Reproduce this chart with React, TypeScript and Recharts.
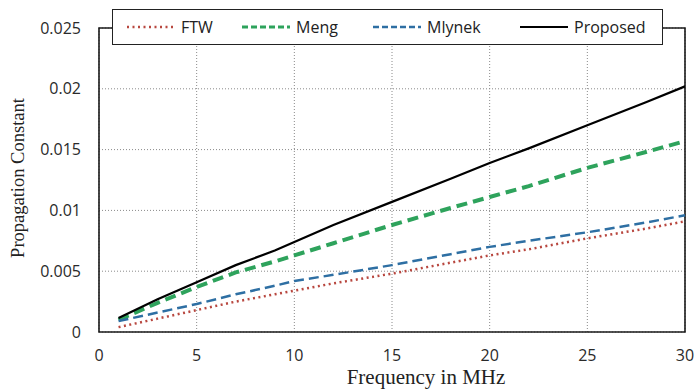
import { LineChart, Line, XAxis, YAxis, CartesianGrid, ReferenceArea } from 'recharts';

const freq = [1, 3, 5, 7, 9, 10, 12, 15, 18, 20, 22, 25, 28, 30];
const ftw = [0.0004, 0.0011, 0.0018, 0.0025, 0.0031, 0.0034, 0.004, 0.0048, 0.0057, 0.0063, 0.0068, 0.0077, 0.0085, 0.0091];
const meng = [0.001, 0.0024, 0.0037, 0.0049, 0.0058, 0.0063, 0.0073, 0.0088, 0.0102, 0.0111, 0.012, 0.0135, 0.0148, 0.0157];
const mlynek = [0.0009, 0.0016, 0.0023, 0.0031, 0.0038, 0.0042, 0.0047, 0.0055, 0.0064, 0.007, 0.0075, 0.0082, 0.009, 0.0096];
const proposed = [0.00115, 0.0027, 0.0041, 0.0055, 0.0067, 0.0074, 0.0088, 0.0107, 0.0126, 0.0139, 0.0151, 0.017, 0.0189, 0.0202];

const xTicks = [0, 5, 10, 15, 20, 25, 30];
const yTicks = [0, 0.005, 0.01, 0.015, 0.02, 0.025];

const data = freq.map((f, i) => ({
    f,
    ftw: ftw[i],
    meng: meng[i],
    mlynek: mlynek[i],
    proposed: proposed[i],
}));

const SERIES = [
    { key: 'ftw', name: 'FTW', color: '#b8473f', width: 2.5, dash: '2 3.5' },
    { key: 'meng', name: 'Meng', color: '#2ea35c', width: 4, dash: '11 6' },
    { key: 'mlynek', name: 'Mlynek', color: '#2e6fa3', width: 2.5, dash: '10 5' },
    { key: 'proposed', name: 'Proposed', color: '#000000', width: 2.2, dash: undefined },
];

// left offset of each legend sample inside the legend box
const LEGEND_LEFT = [14, 129, 260, 407];

const tickStyle = { fontFamily: '"Open Sans", sans-serif', fontSize: 16, fill: '#2a2a2a' };
const titleFont = '"Liberation Serif", "Times New Roman", serif';

export default function App() {
    return (
        <div style={{ position: 'absolute', left: 0, top: 0, width: 695, height: 391, background: '#fff' }}>
            <LineChart width={695} height={391} data={data} margin={{ top: 28, right: 10, left: 0, bottom: 0 }}>
                <CartesianGrid stroke="#8a8a8a" strokeDasharray="1 2" />
                <XAxis
                    dataKey="f"
                    type="number"
                    domain={[0, 30]}
                    ticks={xTicks}
                    height={59}
                    tickLine={false}
                    tickMargin={12}
                    axisLine={false}
                    tick={tickStyle}
                    label={{
                        value: 'Frequency in MHz',
                        position: 'insideBottom',
                        offset: 7,
                        dx: 34,
                        style: { fontFamily: titleFont, fontSize: 21, fill: '#222' },
                    }}
                />
                <YAxis
                    type="number"
                    domain={[0, 0.025]}
                    ticks={yTicks}
                    width={99}
                    tickLine={false}
                    tickMargin={12}
                    axisLine={false}
                    tick={tickStyle}
                    label={{
                        content: (p: any) => {
                            const vb = p.viewBox || {};
                            const cy = vb.y + vb.height / 2 - 2;
                            return (
                                <text
                                    x={18}
                                    y={cy}
                                    transform={`rotate(-90 18 ${cy})`}
                                    textAnchor="middle"
                                    dominantBaseline="central"
                                    style={{ fontFamily: titleFont, fontSize: 18.5, fill: '#222' }}
                                >
                                    Propagation Constant
                                </text>
                            );
                        },
                    }}
                />
                <ReferenceArea x1={0} x2={30} y1={0} y2={0.025} fill="none" stroke="#1a1a1a" strokeWidth={1.6} />
                {SERIES.map((s) => (
                    <Line
                        key={s.key}
                        type="linear"
                        dataKey={s.key}
                        stroke={s.color}
                        strokeWidth={s.width}
                        strokeDasharray={s.dash}
                        dot={false}
                        isAnimationActive={false}
                    />
                ))}
            </LineChart>
            <div
                style={{
                    position: 'absolute',
                    left: 112,
                    top: 9,
                    width: 549,
                    height: 34,
                    border: '1.5px solid #222',
                    background: '#fff',
                    fontFamily: '"Open Sans", sans-serif',
                    fontSize: 16,
                    color: '#222',
                }}
            >
                {SERIES.map((s, i) => (
                    <div
                        key={s.key}
                        style={{ position: 'absolute', left: LEGEND_LEFT[i], top: 0, height: 34, display: 'flex', alignItems: 'center' }}
                    >
                        <svg width={48} height={10} style={{ marginRight: 6 }}>
                            <line
                                x1={0}
                                y1={5}
                                x2={48}
                                y2={5}
                                stroke={s.color}
                                strokeWidth={s.key === 'meng' ? 3 : s.width}
                                strokeDasharray={s.key === 'meng' || s.key === 'mlynek' ? '6 3' : s.dash}
                            />
                        </svg>
                        <span>{s.name}</span>
                    </div>
                ))}
            </div>
        </div>
    );
}
